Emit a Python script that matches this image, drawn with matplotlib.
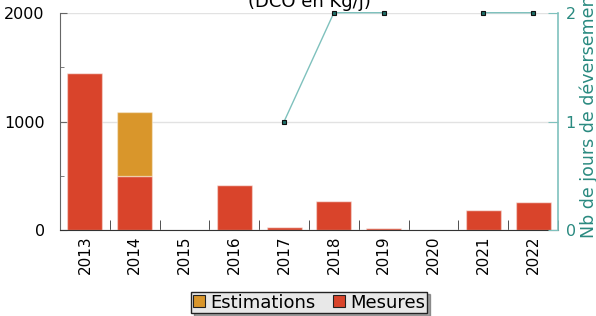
import numpy as np
import matplotlib
matplotlib.use("Agg")
import matplotlib.pyplot as plt
from matplotlib.lines import Line2D

years = ["2013", "2014", "2015", "2016", "2017", "2018", "2019", "2020", "2021", "2022"]
mesures = [1450, 500, 0, 415, 30, 265, 22, 0, 188, 257]
estimations = [0, 590, 0, 0, 0, 0, 0, 0, 0, 0]
jours = [np.nan, np.nan, np.nan, np.nan, 1, 2, 2, np.nan, 2, 2]

c_mes = "#d9442b"
c_est = "#d9962b"
teal = "#2a8a80"
teal_line = "#7fc1bd"

plt.rcParams["font.family"] = "DejaVu Sans"

fig = plt.figure(figsize=(5.96, 3.16), dpi=100)
ax = fig.add_axes([60 / 596, 1 - 230.3 / 316, 498 / 596, 217.6 / 316])
x = np.arange(len(years))

edge = (1, 1, 1, 0.4)
ax.bar(x, mesures, width=0.7, color=c_mes, edgecolor=edge, linewidth=1, zorder=2)
ax.bar(x, estimations, width=0.7, bottom=mesures, color=c_est, edgecolor=edge, linewidth=1, zorder=2)

ax.set_xlim(-0.5, len(years) - 0.5)
ax.set_ylim(0, 2000)
ax.set_yticks([0, 1000, 2000])
ax.set_yticks([500, 1500], minor=True)
ax.set_xticks(x)
ax.set_xticklabels(years, rotation=90, fontsize=11)
ax.set_xticks(np.arange(0.5, len(years)), minor=True)
ax.tick_params(axis="x", which="major", length=0, pad=4)
ax.tick_params(axis="x", which="minor", direction="in", length=7, color="#333333")
ax.tick_params(axis="y", which="major", direction="in", length=5, labelsize=11.5,
               color="#666666", pad=11)
ax.tick_params(axis="y", which="minor", direction="in", length=3, color="#666666")
ax.grid(axis="y", which="major", color="#e2e2e2", linewidth=1, zorder=0)
ax.set_axisbelow(True)
ax.spines["top"].set_visible(False)
ax.spines["right"].set_visible(False)
ax.spines["left"].set_color("#666666")
ax.spines["bottom"].set_color("#333333")

ax2 = ax.twinx()
ax2.plot(x, jours, color=teal_line, linewidth=1, marker="s", markersize=3.5,
         markerfacecolor="#1f6f68", markeredgecolor="#111111", markeredgewidth=0.8,
         clip_on=False, zorder=3)
ax2.set_ylim(0, 2)
ax2.set_yticks([0, 1, 2])
ax2.tick_params(axis="y", direction="in", length=7, labelsize=11.5, colors=teal_line,
                labelcolor=teal, pad=5.5)
for s in ["top", "left", "bottom"]:
    ax2.spines[s].set_visible(False)
ax2.spines["right"].set_color(teal_line)
ax2.spines["right"].set_linewidth(1.2)

fig.text(588.5 / 596, 1 - 238 / 316, "Nb de jours de déversement", rotation=90,
         ha="center", va="bottom", fontsize=12.5, color=teal)
fig.text(309 / 596, 1 - 11 / 316, "Rejets de la station\n(DCO en Kg/j)",
         ha="center", va="bottom", fontsize=13, color="black", linespacing=1.2)

handles = [
    Line2D([], [], linestyle="none", marker="s", markersize=8.5, markerfacecolor=c_est,
           markeredgecolor="#222222", markeredgewidth=0.8),
    Line2D([], [], linestyle="none", marker="s", markersize=8.5, markerfacecolor=c_mes,
           markeredgecolor="#222222", markeredgewidth=0.8),
]
leg = fig.legend(handles, ["Estimations", "Mesures"], loc="center",
                 bbox_to_anchor=(309 / 596, 1 - 302.5 / 316), ncol=2, fontsize=13,
                 frameon=True, fancybox=False, shadow=True, facecolor="#e8e8e8",
                 edgecolor="#222222", framealpha=1, handlelength=0.7,
                 handletextpad=0.3, columnspacing=0.9, borderpad=0.1,
                 borderaxespad=0)
leg.get_frame().set_linewidth(1)

fig.savefig("out.png", dpi=100)
